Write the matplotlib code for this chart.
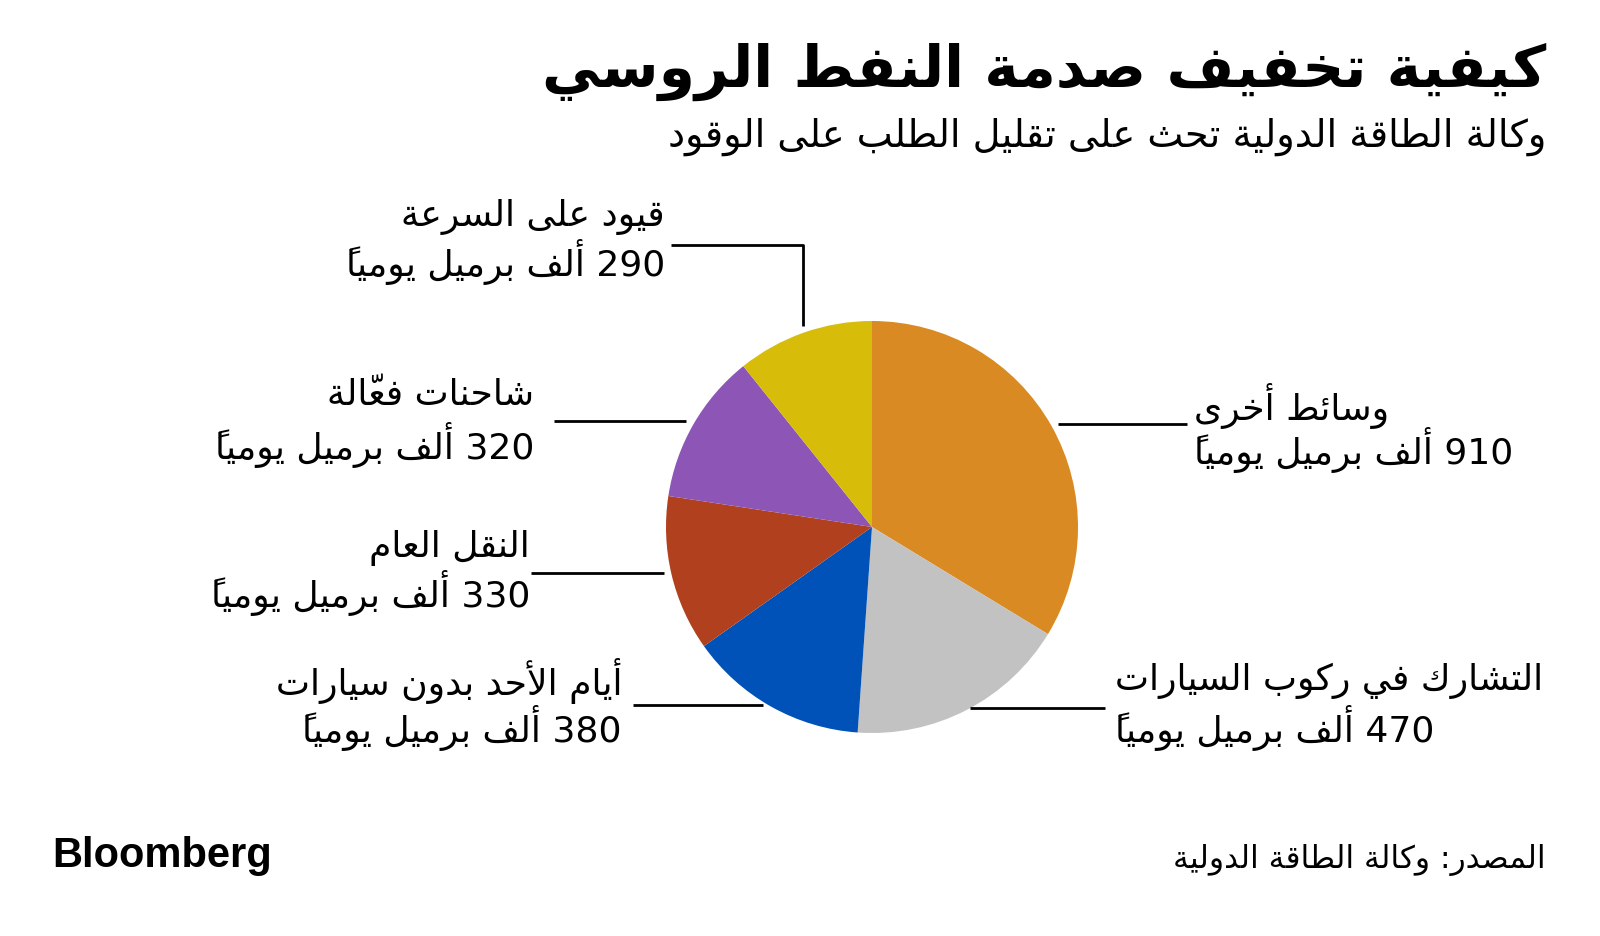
import matplotlib
matplotlib.use("Agg")
import matplotlib.pyplot as plt

# ---------------- data ----------------
categories = ["وسائط أخرى", "التشارك في ركوب السيارات", "أيام الأحد بدون سيارات",
              "النقل العام", "شاحنات فعّالة", "قيود على السرعة"]
values = [910, 470, 380, 330, 320, 290]
unit = "ألف برميل يومياً"
colors = ["#DA8A22", "#C2C2C2", "#0052B8", "#B0401E", "#8C55B6", "#D7BD0A"]
title = "كيفية تخفيف صدمة النفط الروسي"
subtitle = "وكالة الطاقة الدولية تحث على تقليل الطلب على الوقود"
source = "المصدر: وكالة الطاقة الدولية"

# ---------------- minimal Arabic shaping + RTL ordering ----------------
DUAL = {0x0626: 0xFE89, 0x0628: 0xFE8F, 0x062A: 0xFE95, 0x062B: 0xFE99, 0x062C: 0xFE9D,
        0x062D: 0xFEA1, 0x062E: 0xFEA5, 0x0633: 0xFEB1, 0x0634: 0xFEB5, 0x0635: 0xFEB9,
        0x0636: 0xFEBD, 0x0637: 0xFEC1, 0x0638: 0xFEC5, 0x0639: 0xFEC9, 0x063A: 0xFECD,
        0x0641: 0xFED1, 0x0642: 0xFED5, 0x0643: 0xFED9, 0x0644: 0xFEDD, 0x0645: 0xFEE1,
        0x0646: 0xFEE5, 0x0647: 0xFEE9, 0x064A: 0xFEF1}
RIGHT = {0x0622: 0xFE81, 0x0623: 0xFE83, 0x0624: 0xFE85, 0x0625: 0xFE87, 0x0627: 0xFE8D,
         0x0629: 0xFE93, 0x062F: 0xFEA9, 0x0630: 0xFEAB, 0x0631: 0xFEAD, 0x0632: 0xFEAF,
         0x0648: 0xFEED, 0x0649: 0xFEEF}
NONJ = {0x0621: 0xFE80}
LAMALEF = {0x0622: 0xFEF5, 0x0623: 0xFEF7, 0x0625: 0xFEF9, 0x0627: 0xFEFB}


def is_mark(ch):
    return 0x064B <= ord(ch) <= 0x0652


def ar(s):
    clusters = []
    for ch in s:
        if is_mark(ch) and clusters:
            clusters[-1][1].append(ch)
        else:
            clusters.append([ch, []])
    merged = []
    i = 0
    while i < len(clusters):
        c = clusters[i]
        if ord(c[0]) == 0x0644 and i + 1 < len(clusters) and ord(clusters[i + 1][0]) in LAMALEF:
            merged.append(["LA" + clusters[i + 1][0], c[1] + clusters[i + 1][1]])
            i += 2
        else:
            merged.append(c)
            i += 1

    def jt(b):
        if b.startswith("LA"):
            return "R"
        o = ord(b)
        if o in DUAL:
            return "D"
        if o in RIGHT:
            return "R"
        return "U"

    out = []
    for i, (b, m) in enumerate(merged):
        t = jt(b)
        prev = jt(merged[i - 1][0]) if i > 0 else "U"
        nxt = jt(merged[i + 1][0]) if i + 1 < len(merged) else "U"
        jp = t in "DR" and prev == "D"
        jn = t == "D" and nxt in "DR"
        if b.startswith("LA"):
            g = chr(LAMALEF[ord(b[2])] + (1 if jp else 0))
        elif t == "D":
            base = DUAL[ord(b)]
            g = chr(base + (3 if (jp and jn) else 1 if jp else 2 if jn else 0))
        elif t == "R":
            g = chr(RIGHT[ord(b)] + (1 if jp else 0))
        elif ord(b) in NONJ:
            g = chr(NONJ[ord(b)])
        else:
            g = b
        out.append((g, m))

    def ltr(g):
        return g.isdigit() or ("A" <= g <= "z")

    vis = []
    i = len(out) - 1
    while i >= 0:
        if ltr(out[i][0]):
            j = i
            while j - 1 >= 0 and ltr(out[j - 1][0]):
                j -= 1
            vis.extend(out[j:i + 1])
            i = j - 1
        else:
            vis.append(out[i])
            i -= 1
    # marks (zero advance, ink to the right of origin) go before their base
    return "".join("".join(m) + g for g, m in vis)


# ---------------- figure ----------------
W, H = 1600, 937
fig = plt.figure(figsize=(W / 100, H / 100), dpi=100)
fig.patch.set_facecolor("white")
ax = fig.add_axes([0, 0, 1, 1])


def Y(y):
    return H - y


cx, cy, R = 872, 528, 206
ax.pie(values, colors=colors, startangle=90, counterclock=False,
       center=(cx, Y(cy)), radius=R, wedgeprops=dict(linewidth=0))
ax.set_xlim(0, W)
ax.set_ylim(0, H)
ax.set_aspect("equal")
ax.axis("off")

AR = ["DejaVu Sans"]

# title & subtitle
ax.text(1546, Y(72), ar(title), ha="right", va="center", fontsize=42,
        fontweight="bold", family=AR, color="black")
ax.text(1546, Y(137), ar(subtitle), ha="right", va="center", fontsize=27.5,
        family=AR, color="black")

# labels: (category index, x, ha, y1, y2)
label_pos = [
    (0, 1194, "left", 406, 450),
    (1, 1115, "left", 681, 728),
    (2, 622, "right", 681, 728),
    (3, 530, "right", 548, 593),
    (4, 534, "right", 395, 445),
    (5, 665, "right", 217, 262),
]
LFS = 26
for idx, x, ha, y1, y2 in label_pos:
    ax.text(x, Y(y1), ar(categories[idx]), ha=ha, va="center", fontsize=LFS,
            family=AR, color="black")
    ax.text(x, Y(y2), ar(f"{values[idx]} {unit}"), ha=ha, va="center",
            fontsize=LFS, family=AR, color="black")

# leader lines
lkw = dict(color="black", linewidth=2.0, solid_capstyle="butt")
ax.plot([1058, 1187], [Y(425), Y(425)], **lkw)
ax.plot([970, 1105], [Y(709), Y(709)], **lkw)
ax.plot([633, 763], [Y(706), Y(706)], **lkw)
ax.plot([531, 664], [Y(574), Y(574)], **lkw)
ax.plot([554, 686], [Y(422), Y(422)], **lkw)
ax.plot([671, 803, 803], [Y(246), Y(246), Y(327)], **lkw)

# footer
ax.text(1546, Y(860), ar(source), ha="right", va="center", fontsize=22.5,
        family=AR, color="black")
ax.text(52, Y(856), "Bloomberg", ha="left", va="center", fontsize=30,
        fontweight="bold", family=["Liberation Sans"], color="black")

fig.savefig("out.png", dpi=100, facecolor="white")
